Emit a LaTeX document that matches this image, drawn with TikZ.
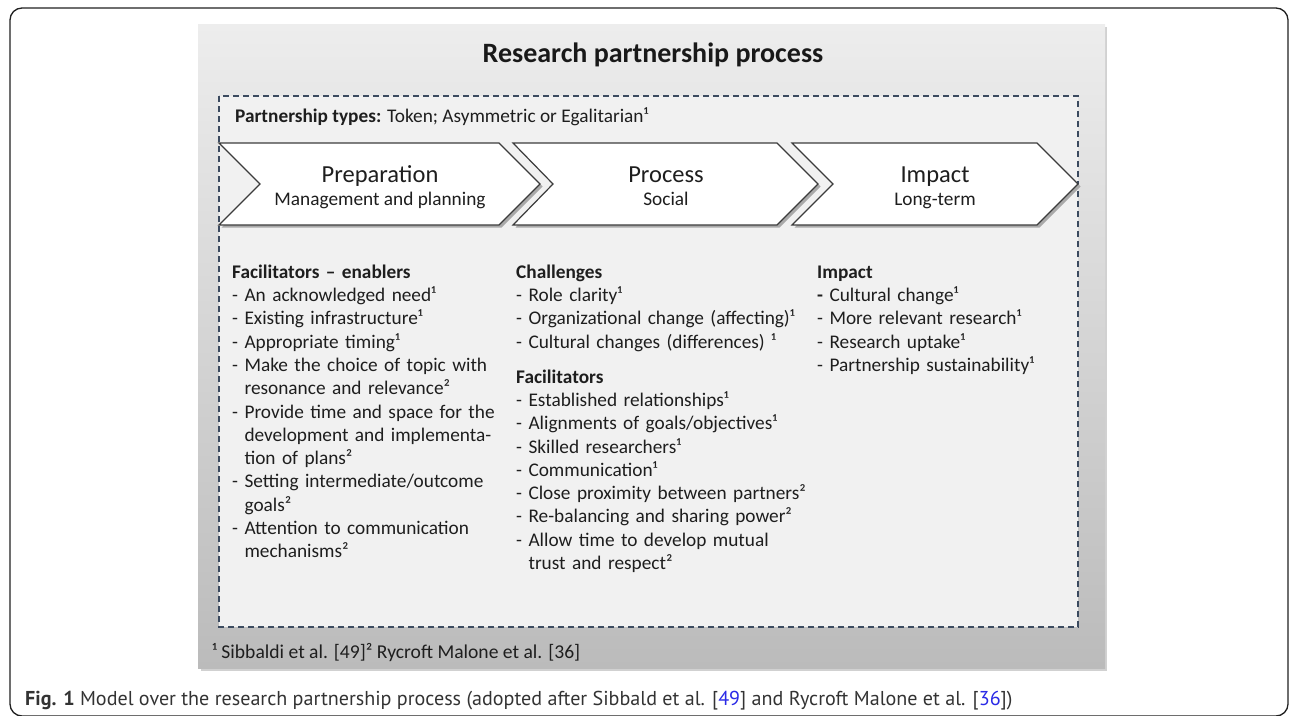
\documentclass[tikz,border=0pt]{standalone}
\usepackage{fontspec}
\setmainfont{Carlito}
\newfontfamily\capfont{PT Sans}
\definecolor{frameline}{HTML}{202020}
\definecolor{paneltop}{HTML}{EDEDED}
\definecolor{panelmid}{HTML}{D9D9D9}
\definecolor{panelbot}{HTML}{BBBBBB}
\definecolor{panelinner}{HTML}{F1F1F1}
\definecolor{dashline}{HTML}{3B4A5F}
\definecolor{chevline}{HTML}{3C3C3C}
\definecolor{chevshadow}{HTML}{A9A9A9}
\definecolor{bodytext}{HTML}{1E1E1E}
\definecolor{captext}{HTML}{333333}
\definecolor{capblue}{HTML}{2A2AE6}
\newcommand\ind{\hphantom{- }}
\tikzset{
  chevbox/.style={fill=white, draw=chevline, line width=1.2pt, line join=miter},
  chevshade/.style={fill=chevshadow, draw=none},
  bigtxt/.style={font=\fontsize{24.5}{28}\selectfont, text=bodytext, inner sep=0pt, anchor=base},
  subtxt/.style={font=\fontsize{19.3}{23.3}\selectfont, text=bodytext, inner sep=0pt, anchor=base},
  coltxt/.style={font=\fontsize{19.3}{23.3}\selectfont, text=bodytext, inner sep=0pt,
                 anchor=north west, align=left, text width=300pt},
}
\begin{document}
\begin{tikzpicture}[x=1pt,y=-1pt]
\useasboundingbox (0,0) rectangle (1290,715);
\clip (0,0) rectangle (1290,715);
% outer frame
\draw[frameline, line width=1.3pt, rounded corners=12pt] (10,8) rectangle (1288,716);
% panel
\fill[black!18] (200.5,26.5) rectangle (1107,670.5);
\shade[top color=paneltop, middle color=panelmid, bottom color=panelbot] (198,24) rectangle (1105,668);
\fill[panelinner] (219,96) rectangle (1078,627);
\draw[dashline, line width=1.8pt, dash pattern=on 6pt off 4pt] (219,96) rectangle (1078,627);
% title
\node[font=\fontsize{28}{32}\selectfont\bfseries, text=black!90, inner sep=0pt, anchor=base] (title) at (653,62) {Research partnership process};
\node[font=\fontsize{19.3}{23.3}\selectfont, text=bodytext, inner sep=0pt, anchor=base west] (types) at (235,122) {\textbf{Partnership types:} Token; Asymmetric or Egalitarian¹};
% chevrons
\fill[chevshade, shift={(2.5,2.5)}] (219,143) -- (499,143) -- (540,184) -- (499,225) -- (219,225) -- (260,184) -- cycle;
\fill[chevshade, shift={(2.5,2.5)}] (513,143) -- (777,143) -- (818,184) -- (777,225) -- (513,225) -- (553,184) -- cycle;
\fill[chevshade, shift={(2.5,2.5)}] (792,143) -- (1037,143) -- (1078,184) -- (1037,225) -- (792,225) -- (833,184) -- cycle;
\filldraw[chevbox] (219,143) -- (499,143) -- (540,184) -- (499,225) -- (219,225) -- (260,184) -- cycle;
\filldraw[chevbox] (513,143) -- (777,143) -- (818,184) -- (777,225) -- (513,225) -- (553,184) -- cycle;
\filldraw[chevbox] (792,143) -- (1037,143) -- (1078,184) -- (1037,225) -- (792,225) -- (833,184) -- cycle;
\node[bigtxt] (prep) at (380,182) {Preparation};
\node[subtxt] (prepsub) at (380,205) {Management and planning};
\node[bigtxt] (proc) at (666,182) {Process};
\node[subtxt] (procsub) at (666,205) {Social};
\node[bigtxt] (imp) at (935,182) {Impact};
\node[subtxt] (impsub) at (935,205) {Long-term};
% columns
\node[coltxt] (col1) at (232,261.7) {\strut\textbf{Facilitators – enablers}\\
- An acknowledged need¹\\
- Existing infrastructure¹\\
- Appropriate timing¹\\
- Make the choice of topic with\\
\ind resonance and relevance²\\
- Provide time and space for the\\
\ind development and implementa-\\
\ind tion of plans²\\
- Setting intermediate/outcome\\
\ind goals²\\
- Attention to communication\\
\ind mechanisms²};
\node[coltxt] (col2) at (516,261.7) {\strut\textbf{Challenges}\\
- Role clarity¹\\
- Organizational change (affecting)¹\\
- Cultural changes (differences) ¹\\[11.7pt]
\textbf{Facilitators}\\
- Established relationships¹\\
- Alignments of goals/objectives¹\\
- Skilled researchers¹\\
- Communication¹\\
- Close proximity between partners²\\
- Re-balancing and sharing power²\\
- Allow time to develop mutual\\
\ind trust and respect²};
\node[coltxt] (col3) at (817,261.7) {\strut\textbf{Impact}\\
\textbf{-} Cultural change¹\\
- More relevant research¹\\
- Research uptake¹\\
- Partnership sustainability¹};
% footnote
\node[font=\fontsize{19.6}{23}\selectfont, text=bodytext, inner sep=0pt, anchor=base west] (foot) at (212,658) {¹ Sibbaldi et al. [49]² Rycroft Malone et al. [36]};
% caption
\node[font=\capfont\fontsize{20.1}{24}\selectfont, text=captext, inner sep=0pt, anchor=base west] (caption) at (25,705) {\textbf{Fig. 1} Model over the research partnership process (adopted after Sibbald et al. [\textcolor{capblue}{49}] and Rycroft Malone et al. [\textcolor{capblue}{36}])};
\end{tikzpicture}
\end{document}
